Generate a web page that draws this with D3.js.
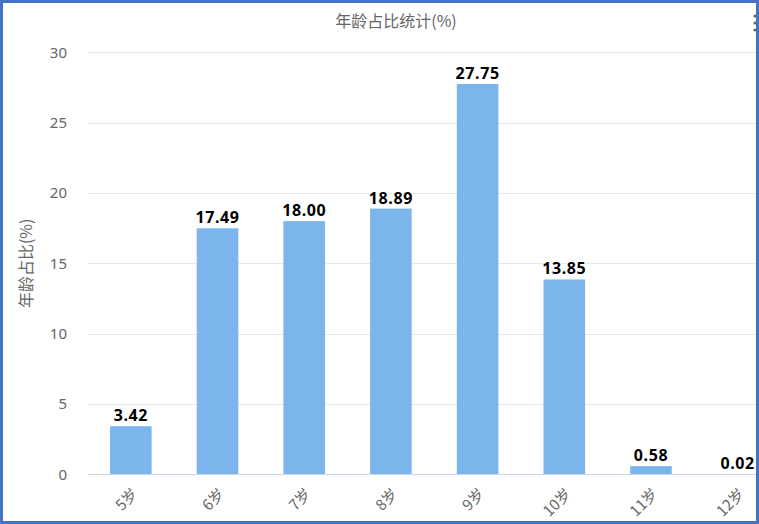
<!DOCTYPE html>
<html>
<head>
<meta charset="utf-8">
<script src="https://cdn.jsdelivr.net/npm/d3@7"></script>
<style>
    body { margin: 0; background: #fff; }
    svg { display: block; font-family: "Noto Sans CJK SC", "Noto Sans", sans-serif; }
</style>
</head>
<body>
<svg id="chart"></svg>
<script>
const WIDTH = 759;
const HEIGHT = 524;

const categories = ['5岁', '6岁', '7岁', '8岁', '9岁', '10岁', '11岁', '12岁'];
const values = [3.42, 17.49, 18.0, 18.89, 27.75, 13.85, 0.58, 0.02];
const yTicks = [0, 5, 10, 15, 20, 25, 30];
const chartTitle = '年龄占比统计(%)';
const yTitle = '年龄占比(%)';

const PLOT_LEFT = 88;
const PLOT_RIGHT = 781; // chart is cut off by the frame on the right
const PLOT_TOP = 52.3;
const PLOT_BOTTOM = 474.3;

const svg = d3.select('#chart').attr('width', WIDTH).attr('height', HEIGHT);

const x = d3
    .scaleBand()
    .domain(categories)
    .range([PLOT_LEFT - 0.5, PLOT_RIGHT])
    .paddingInner(0.52)
    .paddingOuter(0.26);

const y = d3.scaleLinear().domain([0, 30]).range([PLOT_BOTTOM, PLOT_TOP]);

// grid lines
svg.append('g')
    .selectAll('line')
    .data(yTicks.filter((d) => d > 0))
    .join('line')
    .attr('x1', PLOT_LEFT)
    .attr('x2', WIDTH)
    .attr('y1', (d) => Math.round(y(d)) + 0.5)
    .attr('y2', (d) => Math.round(y(d)) + 0.5)
    .attr('stroke', '#e6e6e6');

// y axis labels
const yAxis = svg
    .append('g')
    .attr('transform', `translate(${PLOT_LEFT - 21},0)`)
    .call(d3.axisLeft(y).tickValues(yTicks).tickSize(0).tickPadding(0));
yAxis.select('.domain').remove();
yAxis.selectAll('text')
    .attr('font-size', 15)
    .attr('fill', '#666')
    .attr('font-family', '"Noto Sans", sans-serif');

// bars
svg.append('g')
    .selectAll('rect')
    .data(values)
    .join('rect')
    .attr('x', (d, i) => x(categories[i]))
    .attr('width', x.bandwidth())
    .attr('y', (d) => y(d))
    .attr('height', (d) => y(0) - y(d))
    .attr('fill', '#7cb5ec');

// baseline
svg.append('line')
    .attr('x1', PLOT_LEFT)
    .attr('x2', WIDTH)
    .attr('y1', Math.round(y(0)) + 0.5)
    .attr('y2', Math.round(y(0)) + 0.5)
    .attr('stroke', '#ccd6eb');

// data labels (black text with white outline)
svg.append('g')
    .selectAll('text')
    .data(values)
    .join('text')
    .attr('x', (d, i) => x(categories[i]) + x.bandwidth() / 2)
    .attr('y', (d) => y(d) - 5)
    .attr('text-anchor', 'middle')
    .attr('font-size', 16)
    .attr('font-weight', 'bold')
    .attr('letter-spacing', 0.6)
    .attr('font-family', '"Noto Sans", sans-serif')
    .attr('fill', '#000')
    .attr('stroke', '#fff')
    .attr('stroke-width', 2.5)
    .attr('stroke-linejoin', 'round')
    .attr('paint-order', 'stroke')
    .text((d) => d.toFixed(2));

// x axis labels, rotated
svg.append('g')
    .selectAll('text')
    .data(categories)
    .join('text')
    .attr('transform', (d) => `translate(${x(d) + x.bandwidth() / 2 + 4},${PLOT_BOTTOM + 17}) rotate(-45)`)
    .attr('text-anchor', 'end')
    .attr('dy', '0.35em')
    .attr('font-size', 15)
    .attr('fill', '#666')
    .text((d) => d);

// titles
svg.append('text')
    .attr('x', 396)
    .attr('y', 27)
    .attr('text-anchor', 'middle')
    .attr('font-size', 16)
    .attr('fill', '#666')
    .text(chartTitle);

svg.append('text')
    .attr('transform', `translate(32,${(PLOT_TOP + PLOT_BOTTOM) / 2}) rotate(-90)`)
    .attr('text-anchor', 'middle')
    .attr('font-size', 16)
    .attr('fill', '#666')
    .text(yTitle);

// context menu dots, half hidden under the frame
svg.append('g')
    .selectAll('circle')
    .data([16, 23, 30])
    .join('circle')
    .attr('cx', 755)
    .attr('cy', (d) => d)
    .attr('r', 1.6)
    .attr('fill', '#666');

// blue frame round the screenshot
svg.append('rect')
    .attr('x', 1.5)
    .attr('y', 1.5)
    .attr('width', WIDTH - 3)
    .attr('height', HEIGHT - 3)
    .attr('fill', 'none')
    .attr('stroke', '#4472c4')
    .attr('stroke-width', 3);
svg.append('rect')
    .attr('x', 756)
    .attr('y', 0)
    .attr('width', 3)
    .attr('height', HEIGHT)
    .attr('fill', '#4472c4');
</script>
</body>
</html>
